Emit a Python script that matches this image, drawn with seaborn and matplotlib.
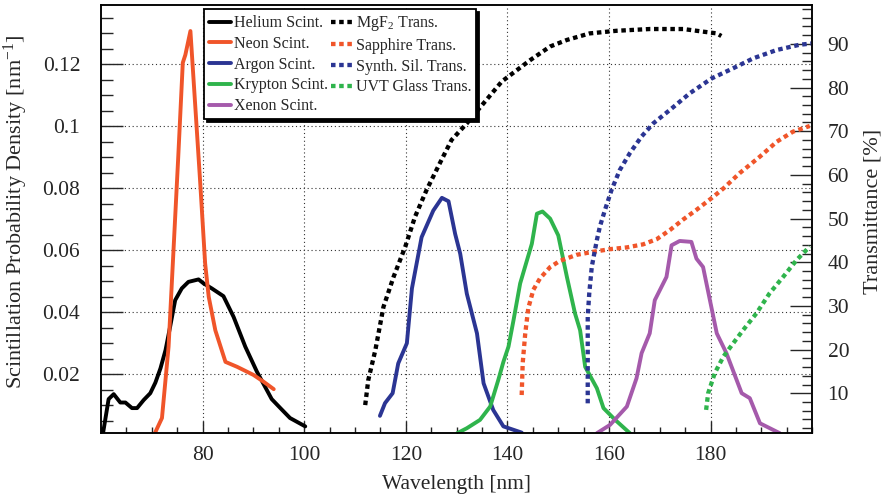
import matplotlib
matplotlib.use("Agg")
import matplotlib.pyplot as plt
import seaborn as sns
from matplotlib.ticker import FixedLocator, FixedFormatter, MultipleLocator

# ---- scintillation spectra (probability density, nm^-1) ----
helium_nm = [60.4, 61.5, 62.5, 63.8, 64.8, 66.1, 67.1, 68.4, 69.7, 70.7, 71.7, 72.7, 73.6,
             74.6, 75.9, 77.2, 79.2, 80.2, 81.8, 84.1, 86.1, 88.4, 90.7, 93.6, 95.3, 97.2, 100.2]
helium_pdf = [0.001, 0.012, 0.0136, 0.0109, 0.0109, 0.0091, 0.0091, 0.0117, 0.0139, 0.0173,
              0.0219, 0.0278, 0.0353, 0.0439, 0.0477, 0.0498, 0.0506, 0.0493, 0.0477, 0.0452,
              0.0385, 0.0289, 0.0208, 0.012, 0.0091, 0.0059, 0.0032]

neon_nm = [70.6, 72.0, 73.3, 74.3, 75.2, 76.1, 76.6, 77.6, 79.5, 80.5, 81.2, 82.5, 84.5,
           86.8, 90.0, 92.0, 94.0]
neon_pdf = [0.001, 0.0059, 0.0289, 0.061, 0.090, 0.1205, 0.123, 0.1307, 0.0825, 0.0557,
            0.045, 0.0342, 0.024, 0.0224, 0.0198, 0.0176, 0.0152]

argon_nm = [114.9, 115.9, 117.4, 118.5, 120.2, 121.2, 123.1, 125.4, 127.1, 128.4, 129.7,
            130.7, 132.0, 134.0, 135.3, 137.2, 139.2, 142.8]
argon_pdf = [0.0066, 0.0107, 0.0139, 0.0235, 0.030, 0.0477, 0.0642, 0.0728, 0.0769, 0.0758,
             0.0653, 0.0589, 0.046, 0.0332, 0.0171, 0.0085, 0.0032, 0.0012]

krypton_nm = [130.1, 132.0, 134.6, 136.6, 138.2, 139.2, 140.2, 141.2, 142.5, 144.8, 145.8,
              146.9, 148.4, 150.0, 151.7, 153.3, 154.3, 155.3, 157.6, 158.9, 161.2, 164.1]
krypton_pdf = [0.001, 0.0026, 0.0053, 0.0096, 0.0182, 0.024, 0.0289, 0.0375, 0.0493, 0.0621,
               0.0718, 0.0725, 0.0702, 0.0648, 0.0514, 0.0396, 0.0342, 0.0224, 0.0155, 0.0091,
               0.0053, 0.001]

xenon_nm = [157.6, 160.2, 163.5, 165.4, 166.4, 168.0, 169.0, 171.3, 172.3, 173.9, 176.2,
            177.2, 178.5, 181.2, 183.1, 186.1, 187.7, 189.7, 193.6]
xenon_pdf = [0.001, 0.0037, 0.0096, 0.0187, 0.0268, 0.0332, 0.0439, 0.0514, 0.0616, 0.063,
             0.0627, 0.0573, 0.0546, 0.0332, 0.0268, 0.0139, 0.0123, 0.0042, 0.001]

# ---- window transmittance curves (%) ----
mgf2_nm = [112.0, 112.6, 114.0, 115.6, 117.6, 119.9, 121.8, 124.1, 126.7, 129.0, 132.0,
           135.3, 138.9, 144.5, 148.4, 151.7, 156.2, 161.5, 168.0, 174.6, 178.5, 181.2, 182.1]
mgf2_T = [7.3, 13.0, 19.9, 29.8, 36.7, 43.6, 50.4, 56.6, 62.7, 68.0, 71.8, 76.4, 81.4, 86.3,
          89.4, 90.9, 92.4, 93.0, 93.4, 93.4, 92.8, 92.4, 91.8]

sapphire_nm = [142.8, 143.0, 143.5, 144.1, 145.1, 146.4, 148.4, 150.3, 153.6, 156.9, 160.2,
               163.5, 166.7, 169.4, 172.0, 174.6, 177.2, 180.2, 182.5, 185.7, 189.7, 193.0,
               196.2, 199.5]
sapphire_T = [9.6, 16.9, 23.7, 29.5, 33.7, 36.3, 38.9, 40.3, 41.7, 42.4, 43.0, 43.4, 44.1,
              45.3, 47.4, 49.8, 52.0, 54.7, 56.9, 60.4, 64.2, 67.6, 69.9, 71.2]

synsil_nm = [155.8, 155.8, 156.1, 156.6, 157.6, 158.2, 159.2, 160.5, 162.1, 164.1, 166.4,
             168.7, 172.0, 175.9, 180.2, 184.4, 188.4, 193.0, 197.5, 200.0]
synsil_T = [7.7, 27.5, 32.9, 39.0, 45.1, 48.2, 52.0, 56.6, 61.1, 65.0, 68.8, 71.8, 74.9,
            78.7, 82.1, 84.4, 86.7, 88.6, 89.8, 90.1]

uvt_nm = [179.1, 179.5, 180.8, 182.5, 184.4, 186.4, 189.0, 191.6, 194.3, 196.9, 199.5]
uvt_T = [6.2, 10.0, 14.6, 18.4, 21.4, 24.5, 28.3, 32.9, 36.7, 40.5, 43.6]

# ---- axis ticks ----
x_ticks = [80, 100, 120, 140, 160, 180]
x_tick_labels = ["80", "100", "120", "140", "160", "180"]
pdf_ticks = [0.02, 0.04, 0.06, 0.08, 0.10, 0.12]
pdf_tick_labels = ["0.02", "0.04", "0.06", "0.08", "0.1", "0.12"]
T_ticks = [10, 20, 30, 40, 50, 60, 70, 80, 90]
T_tick_labels = ["10", "20", "30", "40", "50", "60", "70", "80", "90"]

c_black = "#000000"
c_orange = "#f0552a"
c_blue = "#2b3593"
c_green = "#2fb44c"
c_purple = "#a55aab"

sns.set_style("white")
plt.rcParams.update({
    "font.family": ["Liberation Serif", "DejaVu Serif"],
    "mathtext.fontset": "custom",
    "mathtext.rm": "Liberation Serif",
    "mathtext.it": "Liberation Serif:italic",
    "mathtext.bf": "Liberation Serif:bold",
    "axes.linewidth": 1.1,
})

W, H = 887, 503
fig = plt.figure(figsize=(W / 100, H / 100), dpi=100)
ax = fig.add_axes([101 / W, 1 - 433.3 / H, (812.3 - 101) / W, (433.3 - 5) / H])
ax2 = ax.twinx()

LW = 2.8
LW_DOT = 3.1
DOT = (0, (1.05, 0.85))

scint = [
    ("Helium Scint.", helium_nm, helium_pdf, c_black),
    ("Neon Scint.", neon_nm, neon_pdf, c_orange),
    ("Argon Scint.", argon_nm, argon_pdf, c_blue),
    ("Krypton Scint.", krypton_nm, krypton_pdf, c_green),
    ("Xenon Scint.", xenon_nm, xenon_pdf, c_purple),
]
trans = [
    ("MgF$_2$ Trans.", mgf2_nm, mgf2_T, c_black),
    ("Sapphire Trans.", sapphire_nm, sapphire_T, c_orange),
    ("Synth. Sil. Trans.", synsil_nm, synsil_T, c_blue),
    ("UVT Glass Trans.", uvt_nm, uvt_T, c_green),
]

handles = []
for label, xs, ys, col in scint:
    sns.lineplot(x=xs, y=ys, ax=ax, color=col, lw=LW, estimator=None, sort=False,
                 legend=False, label=label)
    handles.append(ax.lines[-1])
for label, xs, ys, col in trans:
    sns.lineplot(x=xs, y=ys, ax=ax2, color=col, lw=LW_DOT, linestyle=DOT, estimator=None,
                 sort=False, legend=False, label=label)
    line = ax2.lines[-1]
    line.set_dash_capstyle("butt")
    handles.append(line)

ax.set_xlim(60, 200)
ax.set_ylim(0.00097, 0.1391)
ax2.set_ylim(0.84, 98.9)

ax.xaxis.set_major_locator(FixedLocator(x_ticks))
ax.xaxis.set_major_formatter(FixedFormatter(x_tick_labels))
ax.xaxis.set_minor_locator(MultipleLocator(5))
ax.yaxis.set_major_locator(FixedLocator(pdf_ticks))
ax.yaxis.set_major_formatter(FixedFormatter(pdf_tick_labels))
ax.yaxis.set_minor_locator(MultipleLocator(0.005))
ax2.yaxis.set_major_locator(FixedLocator(T_ticks))
ax2.yaxis.set_major_formatter(FixedFormatter(T_tick_labels))
ax2.yaxis.set_minor_locator(MultipleLocator(2))

TICK_FS = 15.5
ax.tick_params(axis="x", which="major", direction="in", length=8.6, width=1.0,
               labelsize=TICK_FS, pad=9, top=False, bottom=True)
ax.tick_params(axis="x", which="minor", direction="in", length=4.3, width=1.0,
               top=False, bottom=True)
ax.tick_params(axis="y", which="major", direction="in", length=15.8, width=1.0,
               labelsize=TICK_FS, pad=15, left=True, right=False)
ax.tick_params(axis="y", which="minor", direction="in", length=8.6, width=1.0,
               left=True, right=False)
ax2.tick_params(axis="y", which="major", direction="in", length=15.8, width=1.0,
                labelsize=TICK_FS, pad=11, left=False, right=True)
ax2.tick_params(axis="y", which="minor", direction="in", length=7.2, width=1.0,
                left=False, right=True)

ax.set_axisbelow(True)
ax.grid(True, which="major", axis="both", color="#333333", lw=0.8, linestyle=(0, (1, 2.5)))
ax2.grid(False)

for a in (ax, ax2):
    for s in a.spines.values():
        s.set_color("black")
        s.set_linewidth(1.1)

ax.set_xlabel("Wavelength [nm]", fontsize=15.5)
ax.xaxis.set_label_coords(0.5, -0.097)
ax.set_ylabel("Scintillation Probability Density [nm$^{-1}$]", fontsize=16)
ax.yaxis.set_label_coords(-0.1, 0.517)
ax2.set_ylabel("Transmittance [%]", fontsize=16)
ax2.yaxis.set_label_coords(1.072, 0.518)

labels = [h.get_label() for h in handles]
leg = ax2.legend(handles, labels, ncol=2, loc="upper left",
                 bbox_to_anchor=(204 / W, 1 - 9.3 / H), bbox_transform=fig.transFigure,
                 borderaxespad=0, frameon=True, fancybox=False, edgecolor="black",
                 framealpha=1, shadow={"color": "black", "alpha": 1},
                 handlelength=1.4, handletextpad=0.15, columnspacing=0.2,
                 labelspacing=0.3, borderpad=0.3, fontsize=11.5)
leg.get_frame().set_linewidth(1.3)

fig.savefig("out.png", dpi=100)
